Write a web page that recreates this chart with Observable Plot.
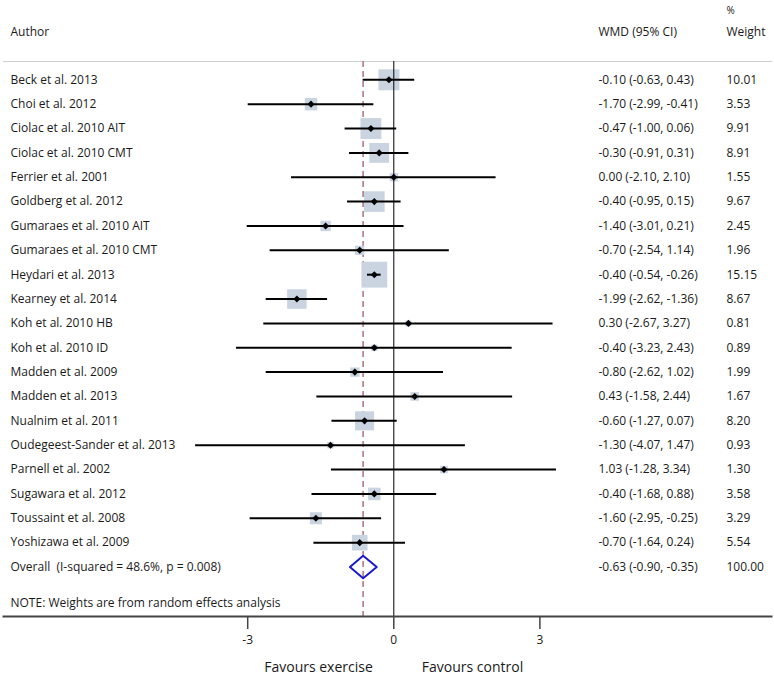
<!DOCTYPE html>
<html><head><meta charset="utf-8">
<script src="https://cdn.jsdelivr.net/npm/d3@7"></script>
<script src="https://cdn.jsdelivr.net/npm/@observablehq/plot@0.6"></script>
<style>body{margin:0;background:#fff} svg{display:block}</style>
</head><body><div id="chart"></div>
<script>
const authors = ["Beck et al. 2013","Choi et al. 2012","Ciolac et al. 2010 AIT","Ciolac et al. 2010 CMT","Ferrier et al. 2001","Goldberg et al. 2012","Gumaraes et al. 2010 AIT","Gumaraes et al. 2010 CMT","Heydari et al. 2013","Kearney et al. 2014","Koh et al. 2010 HB","Koh et al. 2010 ID","Madden et al. 2009","Madden et al. 2013","Nualnim et al. 2011","Oudegeest-Sander et al. 2013","Parnell et al. 2002","Sugawara et al. 2012","Toussaint et al. 2008","Yoshizawa et al. 2009"];
const wmd   = [-0.10,-1.70,-0.47,-0.30, 0.00,-0.40,-1.40,-0.70,-0.40,-1.99, 0.30,-0.40,-0.80, 0.43,-0.60,-1.30, 1.03,-0.40,-1.60,-0.70];
const lower = [-0.63,-2.99,-1.00,-0.91,-2.10,-0.95,-3.01,-2.54,-0.54,-2.62,-2.67,-3.23,-2.62,-1.58,-1.27,-4.07,-1.28,-1.68,-2.95,-1.64];
const upper = [ 0.43,-0.41, 0.06, 0.31, 2.10, 0.15, 0.21, 1.14,-0.26,-1.36, 3.27, 2.43, 1.02, 2.44, 0.07, 1.47, 3.34, 0.88,-0.25, 0.24];
const weight = [10.01,3.53,9.91,8.91,1.55,9.67,2.45,1.96,15.15,8.67,0.81,0.89,1.99,1.67,8.20,0.93,1.30,3.58,3.29,5.54];
const overallLabel = "Overall  (I-squared = 48.6%, p = 0.008)";
const overallEst = -0.63, overallLo = -0.90, overallHi = -0.35, overallWeight = 100.00;
const xTicks = [-3, 0, 3];
const headAuthor = "Author", headWmd = "WMD (95% CI)", headPct = "%", headWeight = "Weight";
const noteText = "NOTE: Weights are from random effects analysis";
const favoursLeft = "Favours exercise", favoursRight = "Favours control";

const fmt = v => v.toFixed(2);
const rows = authors.map((a, i) => ({
  i, author: a, est: wmd[i], lo: lower[i], hi: upper[i], w: weight[i],
  ci: `${fmt(wmd[i])} (${fmt(lower[i])}, ${fmt(upper[i])})`, wt: fmt(weight[i])
}));
const oRow = authors.length;
const overallRow = [{i: oRow, author: overallLabel, ci: `${fmt(overallEst)} (${fmt(overallLo)}, ${fmt(overallHi)})`, wt: fmt(overallWeight)}];
const allRows = rows.concat(overallRow);
const dH = 0.46; // diamond half-height in row units
const diamond = [
  {x: overallLo, y: oRow}, {x: overallEst, y: oRow - dH}, {x: overallHi, y: oRow},
  {x: overallEst, y: oRow + dH}, {x: overallLo, y: oRow}
];

const font = "Open Sans, sans-serif";
const fs = 12;
const chart = Plot.plot({
  width: 774, height: 676,
  marginTop: 61, marginBottom: 60, marginLeft: 3, marginRight: 3,
  style: {fontFamily: font, fontSize: fs + "px", color: "#1a1a1a", background: "#fff"},
  x: {domain: [-3, 3], range: [247.2, 539.4]},
  y: {type: "linear", domain: [0, oRow], range: [79.3, 566.5], axis: null},
  r: {type: "sqrt", domain: [0, 1], range: [0, 3.746]},
  marks: [
    Plot.frame({anchor: "top", stroke: "#cfcfcf", strokeWidth: 1}),
    Plot.ruleX([overallEst], {stroke: "#b07c85", strokeWidth: 1.6, strokeDasharray: "6,4"}),
    Plot.dot(rows, {x: "est", y: "i", r: "w", symbol: "square", fill: "#c9d4e0", stroke: null}),
    Plot.ruleX([0], {stroke: "#000", strokeWidth: 1}),
    Plot.ruleY(rows, {y: "i", x1: "lo", x2: "hi", stroke: "#000", strokeWidth: 2}),
    Plot.dot(rows, {x: "est", y: "i", r: 3.2, symbol: "diamond2", fill: "#000", stroke: null}),
    Plot.line(diamond, {x: "x", y: "y", stroke: "#1a1acc", strokeWidth: 2, curve: "linear"}),
    Plot.text(allRows, {y: "i", text: "author", frameAnchor: "left", dx: 7, textAnchor: "start", fontSize: fs}),
    Plot.text(allRows, {y: "i", text: "ci", frameAnchor: "left", dx: 595, textAnchor: "start", fontSize: fs}),
    Plot.text(allRows, {y: "i", text: "wt", frameAnchor: "left", dx: 723, textAnchor: "start", fontSize: fs}),
    Plot.text([headAuthor], {text: d => d, frameAnchor: "top-left", dx: 7, dy: -29, lineAnchor: "middle", textAnchor: "start", fontSize: fs}),
    Plot.text([headWmd], {text: d => d, frameAnchor: "top-left", dx: 595, dy: -29, lineAnchor: "middle", textAnchor: "start", fontSize: fs}),
    Plot.text([headPct], {text: d => d, frameAnchor: "top-left", dx: 723, dy: -51, lineAnchor: "middle", textAnchor: "start", fontSize: 10}),
    Plot.text([headWeight], {text: d => d, frameAnchor: "top-left", dx: 723, dy: -29, lineAnchor: "middle", textAnchor: "start", fontSize: fs}),
    Plot.text([noteText], {text: d => d, frameAnchor: "bottom-left", dx: 7, dy: -13, lineAnchor: "middle", textAnchor: "start", fontSize: fs}),
    Plot.frame({anchor: "bottom", stroke: "#444", strokeWidth: 2}),
    Plot.axisX(xTicks, {tickSize: 13, tickPadding: 6, tickFormat: d => String(d), stroke: "#444", strokeWidth: 1.5, fontSize: fs, label: null}),
    Plot.text([favoursLeft], {x: () => 0, y: () => oRow, text: d => d, dy: 101, dx: -21, lineAnchor: "middle", textAnchor: "end", fontSize: 14}),
    Plot.text([favoursRight], {x: () => 0, y: () => oRow, text: d => d, dy: 101, dx: 28, lineAnchor: "middle", textAnchor: "start", fontSize: 14})
  ]
});
document.getElementById("chart").appendChild(chart);
</script>
</body></html>
